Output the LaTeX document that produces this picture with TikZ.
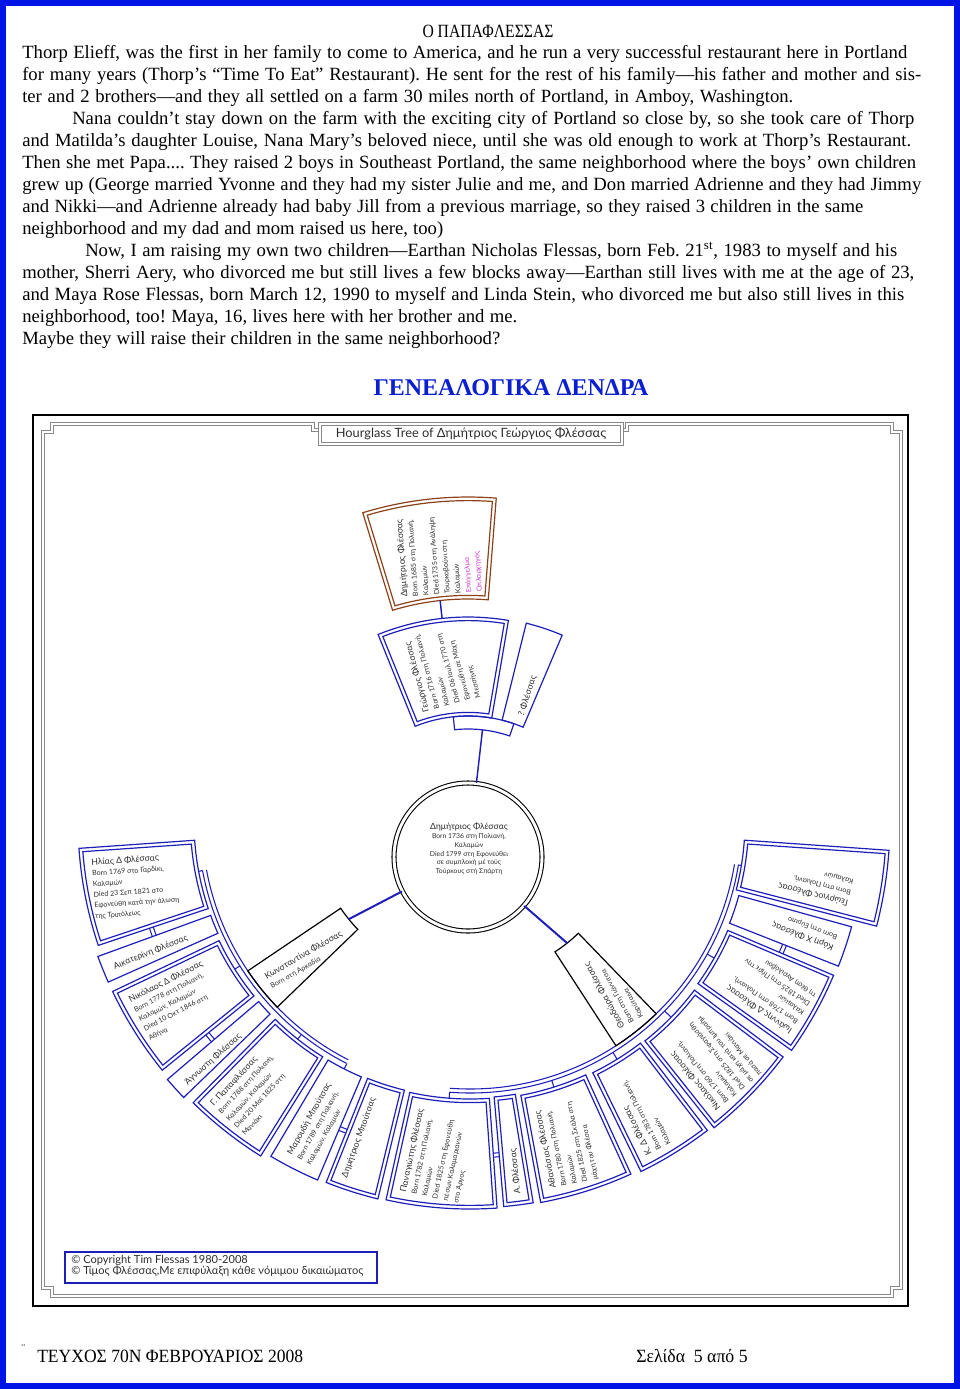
\documentclass[tikz,border=0pt]{standalone}
\usepackage{fontspec}
\setmainfont{Liberation Serif}
\newfontfamily\chartfont{Lato}
\frenchspacing
\definecolor{pageblue}{RGB}{0,20,230}
\definecolor{boxblue}{RGB}{30,30,185}
\definecolor{brownbox}{RGB}{140,65,25}
\definecolor{framegray}{RGB}{135,135,135}
\definecolor{txtgray}{RGB}{45,45,45}
\definecolor{pinktxt}{RGB}{205,60,205}
\definecolor{titleblue}{RGB}{10,30,210}
\newdimen\px \px=0.75pt
\newcommand{\sectorbox}[5][boxblue]{%
  \draw[#1, line width=0.9pt] (#2:#4) arc[start angle=#2,end angle=#3,radius=#4] -- (#3:#5) arc[start angle=#3,end angle=#2,radius=#5] -- cycle;}
\newcommand{\dsectorbox}[5][boxblue]{%
  \sectorbox[#1]{#2}{#3}{#4}{#5}%
  \pgfmathsetmacro\dsa{#2+3.6/(#4+3.6)*57.2958}%
  \pgfmathsetmacro\dsb{#3-3.6/(#4+3.6)*57.2958}%
  \pgfmathsetmacro\dsc{#3-3.6/(#5-3.6)*57.2958}%
  \pgfmathsetmacro\dsd{#2+3.6/(#5-3.6)*57.2958}%
  \pgfmathsetmacro\dri{#4+3.6}\pgfmathsetmacro\dro{#5-3.6}%
  \draw[#1, line width=0.9pt] (\dsa:\dri) arc[start angle=\dsa,end angle=\dsb,radius=\dri] -- (\dsc:\dro) arc[start angle=\dsc,end angle=\dsd,radius=\dro] -- cycle;}
\newcommand{\nm}[1]{{\fontsize{6.5}{8}\selectfont #1}}
\newcommand{\lowtext}[5]{% name, phi1, r2, rot, content
  \pgfmathsetmacro\lta{#2+640/#3}%
  \pgfmathsetmacro\ltr{#3-11}%
  \node[fantext, rotate=#4, anchor=north west] (#1) at (\lta:\ltr) {#5};}
\newcommand{\uptext}[5]{% name, phi2, r1, rot, content
  \pgfmathsetmacro\uta{#2-620/#3}%
  \pgfmathsetmacro\utr{#3+10}%
  \node[fantext, rotate=#4, anchor=north west] (#1) at (\uta:\utr) {#5};}
\newcommand{\mtab}[3]{% phi a, phi b, radius : marriage link
  \draw[boxblue, line width=0.8pt] (#1:#3-2) arc[start angle=#1,end angle=#2,radius=#3-2];
  \draw[boxblue, line width=0.8pt] (#1:#3+2) arc[start angle=#1,end angle=#2,radius=#3+2];}
\begin{document}
\begin{tikzpicture}[x=0.75pt,y=0.75pt,
  bodyline/.style={anchor=base west, inner sep=0pt, font=\fontsize{14}{16}\selectfont},
  fantext/.style={font=\chartfont\fontsize{5.3}{8}\selectfont, text=txtgray, align=left, inner sep=0pt},
  frame/.style={draw=framegray, double=white, double distance=1.5pt, line width=0.55pt},
  conn/.style={boxblue, line width=1.5pt}]
\useasboundingbox (0,0) rectangle (960,-1389);
% page border
\draw[pageblue, line width=4.5pt] (3,-3) rectangle (957,-1386);
% article text
\node[anchor=base, inner sep=0pt, font=\fontsize{14}{16}\selectfont] (ttl) at (488,-37) {\scalebox{0.84}[1]{Ο ΠΑΠΑΦΛΕΣΣΑΣ}};
\node[bodyline] (l1) at (22,-58) {\makebox[885\px][s]{Thorp Elieff, was the first in her family to come to America, and he run a very successful restaurant here in Portland}};
\node[bodyline] (l2) at (22,-80) {\makebox[899\px][s]{for many years (Thorp’s “Time To Eat” Restaurant). He sent for the rest of his family—his father and mother and sis-}};
\node[bodyline] (l3) at (22,-102) {\makebox[771\px][s]{ter and 2 brothers—and they all settled on a farm 30 miles north of Portland, in Amboy, Washington.}};
\node[bodyline] (l4) at (72,-124) {\makebox[842\px][s]{Nana couldn’t stay down on the farm with the exciting city of Portland so close by, so she took care of Thorp}};
\node[bodyline] (l5) at (22,-146) {\makebox[889\px][s]{and Matilda’s daughter Louise, Nana Mary’s beloved niece, until she was old enough to work at Thorp’s Restaurant.}};
\node[bodyline] (l6) at (22,-168) {\makebox[894\px][s]{Then she met Papa.... They raised 2 boys in Southeast Portland, the same neighborhood where the boys’ own children}};
\node[bodyline] (l7) at (22,-190) {\makebox[899\px][s]{grew up (George married Yvonne and they had my sister Julie and me, and Don married Adrienne and they had Jimmy}};
\node[bodyline] (l8) at (22,-212) {\makebox[841\px][s]{and Nikki—and Adrienne already had baby Jill from a previous marriage, so they raised 3 children in the same}};
\node[bodyline] (l9) at (22,-234) {\makebox[421\px][s]{neighborhood and my dad and mom raised us here, too)}};
\node[bodyline] (l10) at (85,-256) {\makebox[812\px][s]{Now, I am raising my own two children—Earthan Nicholas Flessas, born Feb. 21\textsuperscript{st}, 1983 to myself and his}};
\node[bodyline] (l11) at (22,-278) {\makebox[892\px][s]{mother, Sherri Aery, who divorced me but still lives a few blocks away—Earthan still lives with me at the age of 23,}};
\node[bodyline] (l12) at (22,-300) {\makebox[882\px][s]{and Maya Rose Flessas, born March 12, 1990 to myself and Linda Stein, who divorced me but also still lives in this}};
\node[bodyline] (l13) at (22,-322) {\makebox[495\px][s]{neighborhood, too! Maya, 16, lives here with her brother and me.}};
\node[bodyline] (l14) at (22,-344) {\makebox[478\px][s]{Maybe they will raise their children in the same neighborhood?}};
\node[anchor=base, inner sep=0pt, text=titleblue, font=\bfseries\fontsize{18}{20}\selectfont] (gtitle) at (511,-395) {ΓΕΝΕΑΛΟΓΙΚΑ ΔΕΝΔΡΑ};
% chart frame
\draw[black, line width=0.8pt] (33,-415) rectangle (908,-1306);
\draw[frame] (318,-430) -- (313,-430) -- (313,-424) -- (52,-424) -- (52,-432) -- (43,-432) -- (43,-1288) -- (52,-1288) -- (52,-1296) -- (892,-1296) -- (892,-1288) -- (901,-1288) -- (901,-432) -- (892,-432) -- (892,-424) -- (627,-424) -- (627,-430) -- (622,-430);
\draw[frame] (320,-424) rectangle (622,-444);
\node[inner sep=0pt, text=txtgray, font=\chartfont\fontsize{9.6}{10}\selectfont] (htitle) at (471,-434) {Hourglass Tree of Δημήτριος Γεώργιος Φλέσσας};
% copyright
\draw[boxblue, line width=0.9pt] (65,-1252) rectangle (377,-1283);
\node[anchor=north west, inner sep=0pt, align=left, text=txtgray, font=\chartfont\fontsize{8.3}{8.3}\selectfont] (copy) at (71,-1255) {© Copyright Tim Flessas 1980-2008\\© Τίμος Φλέσσας,Με επιφύλαξη κάθε νόμιμου δικαιώματος};
% root
\node[circle, draw=black, double=white, double distance=2.2pt, line width=0.8pt, minimum size=111pt, inner sep=0pt] (root) at (468,-857) {};
\node[fantext, align=center, font=\chartfont\fontsize{5.1}{6.6}\selectfont] (roottext) at (469,-849) {\nm{Δημήτριος Φλέσσας}\\Born 1736 στη Πολιανή,\\Καλαμών\\Died 1799 στη Εφονεύθει\\σε συμπλοκή μέ τούς\\Τούρκους στή Σπάρτη};
% ancestors
\begin{scope}[shift={(468,-857)}]
  \dsectorbox[brownbox]{85.5}{107}{258}{360}
  \uptext{dimtxt}{107}{258}{94}{\nm{Δημήτριος Φλέσσας}\\Born 1685 στη Πολιανή,\\Καλαμών\\Died 1735 στη Ανάληψη\\Τουρκοβούνι στη\\Καλαμών\\\textcolor{pinktxt}{Επάγγελμα}\\\textcolor{pinktxt}{Οπλαρχηγός}}
  \dsectorbox{80.3}{112}{141}{240}
  \uptext{geotxt}{112}{141}{105}{\nm{Γεώργιος Φλέσσας}\\Born 1716 στη Πολιανή,\\Καλαμών\\Died 06 Ιουλ 1770 στη\\Εφονεύθη σε Μάχη\\Μεσσήνης}
  \sectorbox{67}{76}{141}{241}
  \uptext{qtxt}{75.5}{141}{72}{\nm{? Φλέσσας}}
  \sectorbox{71}{96}{128}{141}
  \coordinate (dimbot) at (96.2:258);
  \coordinate (geotop) at (96.2:240);
  \coordinate (barbot) at (83.5:128);
\end{scope}
\draw[conn, line width=1.1pt] (dimbot) -- (geotop);
\draw[conn, line width=1.1pt] (barbot) -- (root);
% descendants
\begin{scope}[shift={(470,-821)}]
  % buses
  \draw[boxblue, line width=0.8pt] (190.5:268) arc[start angle=190.5,end angle=243,radius=268];
  \draw[boxblue, line width=0.8pt] (190.5:272) arc[start angle=190.5,end angle=243,radius=272];
  \draw[boxblue, line width=0.8pt] (265.7:268) arc[start angle=265.7,end angle=350.7,radius=268];
  \draw[boxblue, line width=0.8pt] (265.7:272) arc[start angle=265.7,end angle=350.7,radius=272];
  \foreach \a/\r in {190.5/276,212.2/278,231.7/278,243.1/278,265.7/278,287.5/279,301.7/280,315.7/281,330.7/280,350.7/275}
    \draw[boxblue, line width=0.8pt] (\a:272) -- (\a:\r);
  % wives
  \sectorbox[black]{214}{224}{156}{268}
  \lowtext{kwtxt}{214}{268}{30}{\nm{Κωνσταντίνα Φλέσσας}\\Born στη Αρκαδία}
  \sectorbox[black]{303}{314}{156}{268}
  \lowtext{thtxt}{303}{268}{119}{\nm{Θεοδώρα Φλέσσας}\\Born στη Γιάννιτσα\\Καρύταινα}
  \coordinate (kwin) at (219:156);
  \coordinate (thin) at (308.5:156);
  % children and spouses
  \dsectorbox{184}{198.5}{276}{392}
  \lowtext{iltxt}{184}{392}{4}{\nm{Ηλίας Δ Φλέσσας}\\Born 1769 στο Γαρδίκι,\\Καλαμών\\Died 23 Σεπ 1821 στο\\Εφονεύθη κατά την άλωση\\της Τριπόλεως}
  \sectorbox{200}{204}{276}{396}
  \lowtext{aitxt}{200}{396}{21.5}{\nm{Αικατερίνη Φλέσσας}}
  \mtab{198.5}{200}{336}
  \dsectorbox{205.5}{219}{278}{396}
  \lowtext{nltxt}{205.5}{396}{27}{\nm{Νικόλαος Δ Φλέσσας}\\Born 1778 στη Πολιανή,\\Καλαμών, Καλαμών\\Died 10 Οκτ 1846 στη\\Αθήνα}
  \sectorbox{220.5}{224}{278}{398}
  \lowtext{agtxt}{220.5}{398}{42}{\nm{Άγνωστη Φλέσσας}}
  \mtab{219}{220.5}{338}
  \dsectorbox{225.5}{238}{278}{395}
  \lowtext{pftxt}{225.5}{395}{47}{\nm{Γ. Παπαφλέσσας}\\Born 1788 στη Πολιανή,\\Καλαμών, Καλαμών\\Died 20 Μαϊ 1825 στη\\Μανιάκι}
  \sectorbox{239.3}{247}{278}{390}
  \lowtext{mrtxt}{239.3}{390}{61}{\nm{Μαρουδή Μπούτσας}\\Born 1789 στη Πολιανή,\\Καλαμών, Καλαμών}
  \dsectorbox{248.3}{256.3}{277}{389}
  \lowtext{dbtxt}{248.3}{389}{70}{\nm{Δημήτριος Μπούτσας}}
  \mtab{247}{248.3}{334}
  \dsectorbox{257.5}{274}{278}{388}
  \lowtext{pntxt}{257.5}{388}{78}{\nm{Παναγιώτης Φλέσσας}\\Born 1782 στη Πολιανή,\\Καλαμών\\Died 1825 στη Εφονεύθη\\πέσων Καλαμαριανών\\στο Άργος}
  \dsectorbox{275}{279.4}{277}{387}
  \lowtext{aftxt}{275}{387}{96}{\nm{Α. Φλέσσας}}
  \mtab{274}{275}{335}
  \dsectorbox{280.5}{294.5}{279}{388}
  \lowtext{attxt}{280.5}{388}{101.5}{\nm{Αθανάσιος Φλέσσας}\\Born 1780 στη Πολιανή,\\Καλαμών\\Died 1825 στη Σκάλα στη\\μάχη του Φλέσσα}
  \dsectorbox{296}{307.5}{280}{390}
  \lowtext{kdtxt}{296}{390}{117}{\nm{Κ. Δ Φλέσσας}\\Born 1783 στη Πολιανή,\\Καλαμών}
  \dsectorbox{308.5}{323}{281}{392}
  \lowtext{nrtxt}{308.5}{392}{129.5}{\nm{Νικόλαος Φλέσσας}\\Born 1760 στη Πολιανή,\\Καλαμών\\Died 1825 στη Σφαγιάσθη\\σε μάχη κατά του Ιμπραήμ\\πασά σε Μανιάκι}
  \dsectorbox{324.5}{337}{280}{395}
  \lowtext{iotxt}{324.5}{395}{145.5}{\nm{Ιωάννης Δ Φλέσσας}\\Born 1768 στη Πολιανή,\\Καλαμών\\Died 1825 στη Πήρε την\\τη θέση Αγριλόβου}
  \sectorbox{338.5}{344.5}{279}{396}
  \lowtext{kotxt}{338.5}{396}{159.5}{\nm{Κόρη Χ Φλέσσας}\\Born στη Εύριπο}
  \mtab{337}{338.5}{338}
  \dsectorbox{345.5}{356}{275}{420}
  \lowtext{getxt}{345.5}{398}{166}{\nm{Γεώργιος Φλέσσας}\\Born στη Πολιανή,\\Καλαμών}
\end{scope}
\draw[conn] (root) -- (kwin);
\draw[conn] (root) -- (thin);
% footer
\node[anchor=base west, inner sep=0pt, font=\fontsize{9}{10}\selectfont] (dots) at (21,-1352) {¨};
\node[anchor=base west, inner sep=0pt, font=\fontsize{14}{16}\selectfont] (foot1) at (37,-1362) {\scalebox{0.94}[1]{ΤΕΥΧΟΣ 70Ν ΦΕΒΡΟΥΑΡΙΟΣ 2008}};
\node[anchor=base west, inner sep=0pt, font=\fontsize{14}{16}\selectfont] (foot2) at (636,-1362) {\scalebox{0.95}[1]{Σελίδα\ \ 5 από 5}};
\end{tikzpicture}
\end{document}
